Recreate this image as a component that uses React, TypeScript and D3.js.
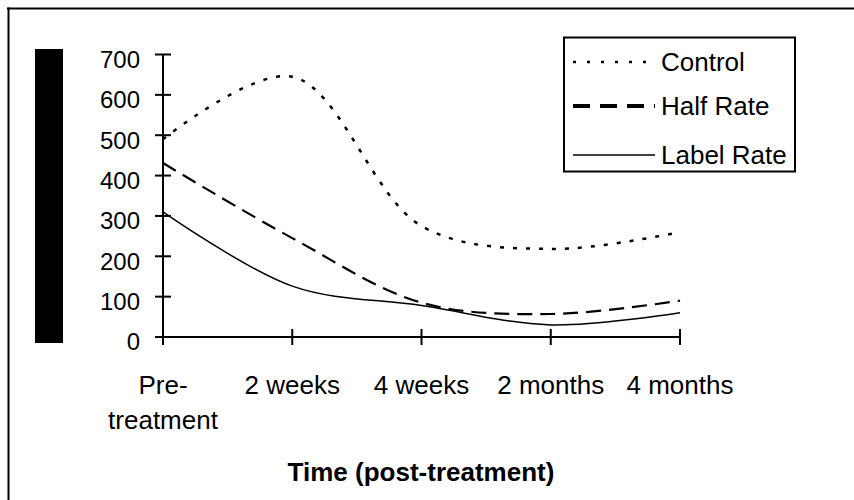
import React from "react";
import * as d3 from "d3";

const categories = ["Pre-treatment", "2 weeks", "4 weeks", "2 months", "4 months"];
const categoryLines: string[][] = [["Pre-", "treatment"], ["2 weeks"], ["4 weeks"], ["2 months"], ["4 months"]];
const control = [490, 645, 275, 218, 260];
const halfRate = [431, 245, 85, 57, 90];
const labelRate = [310, 126, 78, 30, 60];
const yTicks = [0, 100, 200, 300, 400, 500, 600, 700];
const seriesNames = ["Control", "Half Rate", "Label Rate"];
const xTitle = "Time (post-treatment)";

const FONT = "'Liberation Sans', Arial, sans-serif";

export default function App() {
  const W = 854, H = 500;
  const x = d3.scalePoint<string>().domain(categories).range([163, 680]);
  const y = d3.scaleLinear().domain([0, 700]).range([337, 54.5]);
  const line = d3
    .line<number>()
    .x((_, i) => x(categories[i]) as number)
    .y((d) => y(d))
    .curve(d3.curveCatmullRom.alpha(0.5));

  const series = [
    { name: seriesNames[0], data: control, dash: "4 9", width: 2.5, legW: 2.5, legDash: "3 11" },
    { name: seriesNames[1], data: halfRate, dash: "15 8", width: 2.2, legW: 4, legDash: "17 10" },
    { name: seriesNames[2], data: labelRate, dash: undefined, width: 1.5, legW: 1.5, legDash: undefined },
  ];
  const legendY = [62, 106, 155];

  return (
    <svg width={W} height={H} style={{ position: "absolute", left: 0, top: 0, background: "#fff" }} fontFamily={FONT}>
      <rect x={0} y={0} width={W} height={H} fill="#fff" />
      {/* outer frame (top & left visible) */}
      <line x1={7} x2={W} y1={8.5} y2={8.5} stroke="#000" strokeWidth={2} />
      <line x1={8.5} x2={8.5} y1={7.5} y2={H} stroke="#000" strokeWidth={2} />
      {/* black bar */}
      <rect x={35} y={49} width={28} height={294} fill="#000" />
      {/* y axis */}
      <line x1={163} x2={163} y1={y(700)} y2={y(0) + 8} stroke="#000" strokeWidth={2} />
      {yTicks.map((t) => (
        <g key={t}>
          <line x1={155} x2={t === 0 ? 163 : 171} y1={y(t)} y2={y(t)} stroke="#000" strokeWidth={2} />
          <text x={140} y={y(t) + 7} textAnchor="end" dominantBaseline="middle" fontSize={24}>
            {t}
          </text>
        </g>
      ))}
      {/* x axis */}
      <line x1={155} x2={680} y1={y(0)} y2={y(0)} stroke="#000" strokeWidth={2} />
      {categories.map((c, i) => (
        <g key={c}>
          <line x1={x(c)} x2={x(c)} y1={y(0) - (i === 0 ? 0 : 8)} y2={y(0) + 8} stroke="#000" strokeWidth={2} />
          {categoryLines[i].map((l, j) => (
            <text key={j} x={x(c)} y={394 + j * 35} textAnchor="middle" fontSize={26}>
              {l}
            </text>
          ))}
        </g>
      ))}
      <text x={421} y={481} textAnchor="middle" fontSize={26} fontWeight="bold">
        {xTitle}
      </text>
      {/* series */}
      {series.map((s) => (
        <path key={s.name} d={line(s.data) || ""} fill="none" stroke="#000" strokeWidth={s.width} strokeDasharray={s.dash} />
      ))}
      {/* legend */}
      <rect x={564} y={37.5} width={231} height={134} fill="#fff" stroke="#000" strokeWidth={2} />
      {series.map((s, i) => (
        <g key={s.name}>
          <line x1={573} x2={655} y1={legendY[i]} y2={legendY[i]} stroke="#000" strokeWidth={s.legW} strokeDasharray={s.legDash} />
          <text x={661} y={legendY[i] + 2} dominantBaseline="middle" fontSize={26}>
            {s.name}
          </text>
        </g>
      ))}
    </svg>
  );
}
